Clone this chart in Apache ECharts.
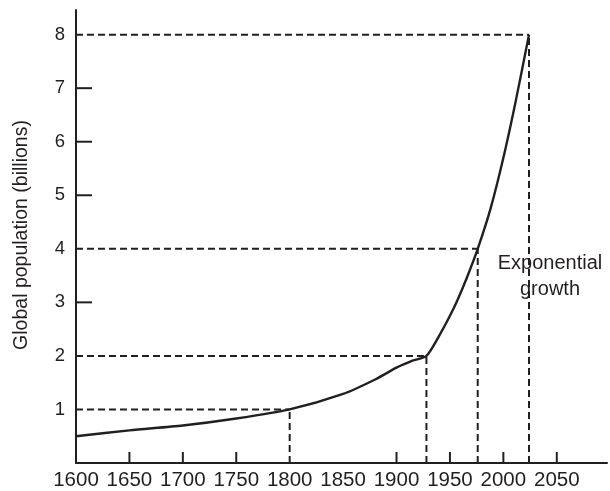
<!DOCTYPE html>
<html>
<head>
<meta charset="utf-8">
<script src="https://cdn.jsdelivr.net/npm/echarts@6/dist/echarts.min.js"></script>
<style>
  html, body { margin: 0; padding: 0; background: #fff; }
  #chart { width: 610px; height: 491px; }
</style>
</head>
<body>
<div id="chart"></div>
<script>
// World population curve (billions) by year
const years       = [1600, 1650, 1700, 1750, 1800, 1850, 1880, 1900, 1915, 1928, 1940, 1950, 1957, 1966, 1976, 1988, 2000, 2012, 2024];
const population  = [0.50, 0.61, 0.70, 0.83, 1.00, 1.29, 1.56, 1.78, 1.91, 2.00, 2.38, 2.75, 3.04, 3.47, 4.00, 4.75, 5.70, 6.80, 8.00];

// Doubling milestones: year reached and population at that point
const milestoneYears  = [1800, 1928, 1976, 2024];
const milestoneValues = [1, 2, 4, 8];

// Axis labels and the tick marks that are drawn (milestones replace their ticks)
const xTickLabels = [1600, 1650, 1700, 1750, 1800, 1850, 1900, 1950, 2000, 2050];
const yTickLabels = [1, 2, 3, 4, 5, 6, 7, 8];
const xTickMarks  = [1650, 1700, 1750, 1900, 1950, 2000, 2050];
const yTickMarks  = [3, 5, 6, 7];

const INK = '#231f20';
const FONT = '"Liberation Sans", Arial, Helvetica, sans-serif';

const chart = echarts.init(document.getElementById('chart'));

// Dashed guides from each axis to the milestone point
const guideSeries = [];
milestoneYears.forEach((yr, i) => {
  const v = milestoneValues[i];
  const style = { color: INK, width: 2, type: [7, 4] };
  guideSeries.push({
    type: 'line', data: [[1600, v], [yr, v]], symbol: 'none',
    lineStyle: style, silent: true, z: 2, animation: false
  });
  guideSeries.push({
    type: 'line', data: [[yr, 0], [yr, v]], symbol: 'none',
    lineStyle: style, silent: true, z: 2, animation: false
  });
});

chart.setOption({
  animation: false,
  backgroundColor: '#fff',
  grid: { left: 76, right: 2, top: 10, bottom: 27 },
  xAxis: {
    type: 'value', min: 1600, max: 2097, interval: 50,
    axisLine: { lineStyle: { color: INK, width: 2 } },
    axisTick: { show: false },
    splitLine: { show: false },
    axisLabel: {
      color: INK, fontFamily: FONT, fontSize: 20.5, margin: 7,
      formatter: v => xTickLabels.includes(v) ? String(v) : ''
    }
  },
  yAxis: {
    type: 'value', min: 0, max: 8.46, interval: 1,
    axisLine: { lineStyle: { color: INK, width: 2 } },
    axisTick: { show: false },
    splitLine: { show: false },
    axisLabel: {
      color: INK, fontFamily: FONT, fontSize: 18.5, margin: 11,
      formatter: v => yTickLabels.includes(v) ? String(v) : ''
    }
  },
  graphic: [
    {
      type: 'text', x: 22, y: 235, rotation: Math.PI / 2,
      style: { text: 'Global population (billions)', fill: INK, font: '19.5px ' + FONT,
               align: 'center', verticalAlign: 'middle' }
    },
    {
      type: 'text', x: 550, y: 250,
      style: { text: 'Exponential\ngrowth', fill: INK, font: '20px ' + FONT,
               align: 'center', verticalAlign: 'top', lineHeight: 26 }
    }
  ],
  series: [
    ...guideSeries,
    {
      type: 'custom', clip: false, silent: true, z: 3,
      data: xTickMarks.map(x => [x, 0]),
      renderItem: (params, api) => {
        const p = api.coord([api.value(0), api.value(1)]);
        return { type: 'line', shape: { x1: p[0], y1: p[1], x2: p[0], y2: p[1] - 11 },
                 style: { stroke: INK, lineWidth: 2 } };
      }
    },
    {
      type: 'custom', clip: false, silent: true, z: 3,
      data: yTickMarks.map(y => [1600, y]),
      renderItem: (params, api) => {
        const p = api.coord([api.value(0), api.value(1)]);
        return { type: 'line', shape: { x1: p[0], y1: p[1], x2: p[0] + 16, y2: p[1] },
                 style: { stroke: INK, lineWidth: 2 } };
      }
    },
    {
      type: 'line', symbol: 'none', smooth: 0.25, z: 5,
      data: years.map((y, i) => [y, population[i]]),
      lineStyle: { color: INK, width: 2.4 }
    }
  ]
});
</script>
</body>
</html>
